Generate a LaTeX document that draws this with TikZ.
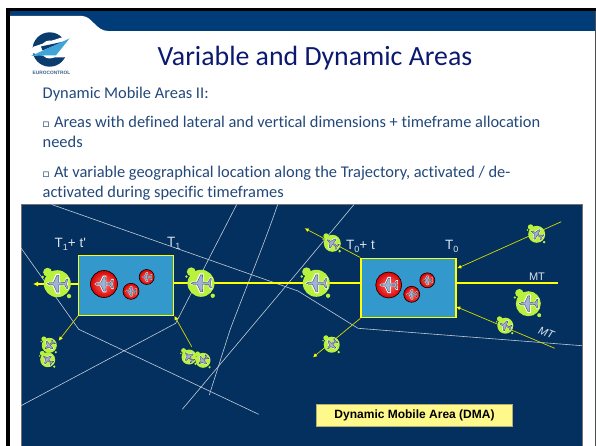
\documentclass[tikz,border=0pt]{standalone}
\usepackage{fontspec}
\usetikzlibrary{arrows.meta,calc}
\setmainfont[Ligatures=NoCommon]{Carlito}
\newfontfamily\arialf{Liberation Sans}
\definecolor{band}{HTML}{003C78}
\definecolor{panel}{HTML}{03305F}
\definecolor{boxblue}{HTML}{3399CC}
\definecolor{ylw}{HTML}{FFFF00}
\definecolor{blobg}{HTML}{B8F23C}
\definecolor{titlec}{HTML}{0B1A70}
\definecolor{bodyc}{HTML}{23487A}
\definecolor{greyl}{HTML}{C4CCD8}
\definecolor{planec}{HTML}{9DB4D8}
\definecolor{labelc}{HTML}{DDE3EC}
\definecolor{logoc}{HTML}{0B3C6E}
\definecolor{logow}{HTML}{3FA4D8}
\newcommand{\lowsub}[1]{\raisebox{-3.2pt}{\fontsize{9}{10}\selectfont #1}}
\newcommand{\sqbullet}{{\fontsize{11.5}{12}\selectfont\char"25A1}\hspace{4.4pt}}
\tikzset{
  x=1pt,y=-1pt,
  sector/.style={draw=greyl,line width=0.6pt},
  mainline/.style={draw=ylw,line width=2pt},
  thinarrow/.style={draw=ylw!85!black,line width=0.7pt,-{Latex[length=4pt,width=4pt,color=ylw]}},
  dma/.style={draw=ylw,line width=1.4pt,fill=boxblue,minimum width=95pt,minimum height=59.5pt,inner sep=0pt,anchor=north west},
  body/.style={text=bodyc,font=\fontsize{16.4}{18}\selectfont,anchor=base west,inner sep=0pt},
  tlabel/.style={text=labelc,font=\arialf\fontsize{13.5}{14}\selectfont,anchor=base west,inner sep=0pt},
  mtlabel/.style={text=labelc,font=\arialf\fontsize{11}{12}\selectfont,inner sep=0pt},
  plane/.pic={
    \fill[white] (-0.92,0) .. controls (-0.8,-0.17) and (-0.6,-0.17) .. (-0.4,-0.15) -- (-0.1,-0.8) -- (0.22,-0.8) -- (0.2,-0.15) -- (0.55,-0.13) -- (0.72,-0.48) -- (0.92,-0.48) -- (0.85,0) -- (0.92,0.48) -- (0.72,0.48) -- (0.55,0.13) -- (0.2,0.15) -- (0.22,0.8) -- (-0.1,0.8) -- (-0.4,0.15) .. controls (-0.6,0.17) and (-0.8,0.17) .. (-0.92,0) -- cycle;
    \fill[planec,draw=black!75,line width=0.35pt] (-0.8,0) .. controls (-0.7,-0.11) and (-0.5,-0.11) .. (-0.3,-0.1) -- (-0.03,-0.68) -- (0.13,-0.68) -- (0.12,-0.1) -- (0.58,-0.08) -- (0.75,-0.38) -- (0.84,-0.38) -- (0.76,0) -- (0.84,0.38) -- (0.75,0.38) -- (0.58,0.08) -- (0.12,0.1) -- (0.13,0.68) -- (-0.03,0.68) -- (-0.3,0.1) .. controls (-0.5,0.11) and (-0.7,0.11) .. (-0.8,0) -- cycle;
  },
  redball/.style={shading=radial,inner color=red!55!white,middle color=red!90!black,outer color=red!85!black,draw=black,line width=0.6pt},
}
\newcommand{\blobplane}[4]{%
  \begin{scope}[shift={(#1,#2)}]
    \fill[blobg] (0,0) circle[radius=#3];
    \fill[blobg] (-0.72*#3,-0.85*#3) circle[radius=0.33*#3];
    \fill[blobg] (0.87*#3,0.92*#3) circle[radius=0.16*#3];
    \fill[blobg] (-1.08*#3,-0.5*#3) circle[radius=0.1*#3];
    \pic[scale=0.92*#3,rotate=#4] {plane};
  \end{scope}}
\newcommand{\redplane}[3]{%
  \begin{scope}[shift={(#1,#2)}]
    \path[redball] (0,0) circle[radius=#3];
    \pic[scale=0.78*#3] {plane};
  \end{scope}}
\begin{document}
\begin{tikzpicture}
\useasboundingbox (0,0) rectangle (596,446);
\fill[white] (0,0) rectangle (596,446);
\fill[band] (9,11) rectangle (595,31);
\fill[white] (9,16) -- (82,16) .. controls (92,16) and (96,31) .. (108,31) -- (9,31) -- cycle;
\fill[black] (6,8) rectangle (596,11);
\fill[black] (6,8) rectangle (9.5,446);
\fill[black!70] (595.2,11) rectangle (596,446);
\begin{scope}
  \fill[logoc] (49.7,49.5) circle[radius=17.2];
  \fill[white] (49.7,49.5) circle[radius=9];
  \fill[white] (28,52) -- (34,46.5) -- (72,34) -- (72,57) -- (56,57.5) -- (46,56.5) -- cycle;
  \fill[logoc] (41,46.5) -- (64,41.5) -- (42.5,50.5) -- cycle;
  \fill[logow] (31,56) -- (69.5,38.5) -- (56,55.3) -- (44,55.5) -- cycle;
  \node[inner sep=0pt,text=logoc!80,font=\arialf\bfseries\fontsize{4.8}{5}\selectfont] (logotext) at (51.5,73.3) {EUROCONTROL};
\end{scope}
\node[text=titlec,font=\fontsize{27.8}{30}\selectfont,anchor=base,inner sep=0pt] (title) at (315,66) {Variable and Dynamic Areas};
\node[body] (t1) at (42.5,98.6) {Dynamic Mobile Areas II:};
\node[body] (t2) at (42.5,128) {\sqbullet Areas with defined lateral and vertical dimensions + timeframe allocation};
\node[body] (t3) at (42.5,148) {needs};
\node[body] (t4) at (42.5,178) {\sqbullet At variable geographical location along the Trajectory, activated / de-};
\node[body] (t5) at (42.5,197) {activated during specific timeframes};
\fill[panel] (21,204.5) rectangle (582,445.5);
\draw[black!55,line width=0.6pt] (21,445.5) -- (21,204.5) -- (582,204.5) -- (582,445.5);
\draw[sector] (51.7,204.5) -- (298,291) -- (358,328.3) -- (582,345.7);
\draw[sector] (21,248) -- (78.7,329.3) -- (258.7,414.3);
\draw[sector] (21,405.7) -- (175.7,323.3) -- (236.7,204.5);
\draw[sector] (277.7,204.5) .. controls (262,250) and (245,290) .. (230,330) -- (209.3,395);
\draw[sector] (182.3,409.3) -- (298,271.7) -- (354,204.5);
\node[dma] (boxa) at (78,255) {};
\node[dma] (boxb) at (360.3,257.5) {};
\coordinate (endL) at (33,284);
\coordinate (endR) at (558,282.7);
\coordinate (a1) at (191.7,346.7);
\coordinate (a2) at (58.7,340.7);
\coordinate (b1) at (304.7,228.3);
\coordinate (b2) at (561.3,221.7);
\coordinate (b3) at (554.7,348.3);
\coordinate (b4) at (313,357.3);
\draw[mainline,-{Latex[length=5pt,width=5pt]}] (boxa.west |- endL) -- (endL);
\draw[mainline] (boxa.east |- endR) -- (boxb.west |- endR);
\draw[mainline] (boxb.east |- endR) -- (endR);
\draw[thinarrow] (a1) -- (boxa.south east);
\draw[thinarrow] (boxa.south west) -- (a2);
\draw[thinarrow] (boxb.north west) -- (b1);
\draw[thinarrow] (b2) -- (457.3,268.3);
\draw[thinarrow] (b3) -- (456.3,306.7);
\draw[thinarrow] (boxb.south west) -- (b4);
\redplane{104}{284}{13.5}
\redplane{131}{291.3}{8}
\redplane{146.7}{277}{7.5}
\redplane{388.7}{285}{13}
\redplane{411.7}{294.3}{8}
\redplane{427.3}{280.3}{7.5}
\blobplane{57.3}{283.7}{13.5}{0}
\blobplane{201}{283.3}{13.5}{0}
\blobplane{49.3}{345.3}{7.5}{40}
\blobplane{47.7}{359.7}{7.5}{-40}
\blobplane{189}{357}{7.5}{-50}
\blobplane{203}{360.3}{7.5}{40}
\blobplane{332.3}{243.3}{8.5}{-35}
\blobplane{316.3}{283.3}{13.5}{0}
\blobplane{331.7}{344.7}{8}{45}
\blobplane{536.7}{234.3}{8.5}{-30}
\blobplane{528.3}{303.7}{12.5}{0}
\blobplane{505.3}{325.7}{8}{-20}
\node[tlabel] (l1) at (54.5,247) {T\lowsub{1}+ t'};
\node[tlabel] (l2) at (167,246) {T\lowsub{1}};
\node[tlabel] (l3) at (346,249) {T\lowsub{0}+ t};
\node[tlabel] (l4) at (445,249) {T\lowsub{0}};
\node[mtlabel] (m1) at (537,277) {MT};
\node[mtlabel,rotate=-22,font=\arialf\itshape\fontsize{11}{12}\selectfont] (m2) at (546.5,333) {MT};
\node[draw=black!50!yellow!70!white,line width=0.7pt,fill=yellow!45,minimum width=196pt,minimum height=22pt,inner sep=0pt,font=\arialf\bfseries\fontsize{12}{14}\selectfont] (legend) at (414.5,415.7) {Dynamic Mobile Area (DMA)};
\end{tikzpicture}
\end{document}
